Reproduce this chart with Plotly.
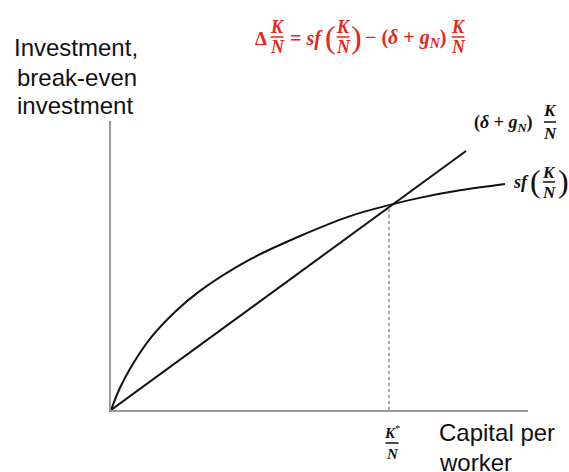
import plotly.graph_objects as go

# ---- data ----
k_curve = [0, 0.32, 0.68, 1.40, 2.30, 3.20, 5.00, 6.80, 8.60, 10.0, 11.1, 12.55, 14.17]
sf_curve = [0, 0.76, 1.42, 2.46, 3.39, 4.12, 5.21, 6.02, 6.71, 7.09, 7.34, 7.60, 7.82]
k_line = [0, 12.77]
be_line = [0, 8.96]
k_star = 10.0
y_star = 7.09

X_RANGE = [0, 15]
Y_RANGE = [0, 10]

# plot area in pixels
L, R, T, B = 111, 528, 121, 410
W, H = 569, 472

def px(x):
    return (x - L) / (R - L)

def py(y):
    return (B - y) / (B - T)

RED = "#e8231b"
BLACK = "#111111"
SERIF = "Liberation Serif"
SANS = "Liberation Sans"

fig = go.Figure()

fig.add_trace(go.Scatter(x=k_curve, y=sf_curve, mode="lines",
                         line=dict(color=BLACK, width=2, shape="spline", smoothing=1.0),
                         hoverinfo="skip"))
fig.add_trace(go.Scatter(x=k_line, y=be_line, mode="lines",
                         line=dict(color=BLACK, width=2), hoverinfo="skip"))
fig.add_trace(go.Scatter(x=[k_star, k_star], y=[0, y_star], mode="lines",
                         line=dict(color="#555555", width=1, dash="dot"), hoverinfo="skip"))

annotations = []
shapes = []

def text(x, y, s, size, color=BLACK, family=SERIF, xanchor="center"):
    annotations.append(dict(x=px(x), y=py(y), xref="paper", yref="paper", text=s,
                            showarrow=False, xanchor=xanchor, yanchor="middle",
                            font=dict(size=size, color=color, family=family)))

def frac(cx, cy, top, bottom, size, color, w, gap):
    text(cx, cy - gap, top, size, color)
    text(cx, cy + gap, bottom, size, color)
    shapes.append(dict(type="line", xref="paper", yref="paper",
                       x0=px(cx - w / 2), x1=px(cx + w / 2), y0=py(cy), y1=py(cy),
                       line=dict(color=color, width=1.5)))

KN_T = "<b><i>K</i></b>"
KN_B = "<b><i>N</i></b>"

# red equation at the top
text(261, 38, "<b>Δ</b>", 19, RED)
frac(277, 37, KN_T, KN_B, 18, RED, 13, 10)
text(306, 38, "<b>= <i>sf</i></b>", 20, RED)
text(330, 37, "(", 32, RED)
frac(343, 37, KN_T, KN_B, 18, RED, 13, 10)
text(356, 37, ")", 32, RED)
text(406, 38, "<b>− (<i>δ</i> + <i>g</i><sub><i>N</i></sub>)</b>", 20, RED)
frac(458, 37, KN_T, KN_B, 18, RED, 13, 10)

# right-side labels
text(503, 123, "<b>(<i>δ</i> + <i>g</i><sub><i>N</i></sub>)</b>", 18, BLACK)
frac(550, 122, KN_T, KN_B, 17, BLACK, 12, 11)
text(521, 182, "<b><i>sf</i></b>", 18, BLACK)
text(535, 181, "(", 32, BLACK)
frac(549, 182, KN_T, KN_B, 17, BLACK, 12, 10)
text(563, 181, ")", 32, BLACK)

# K*/N
frac(392, 443, "<b><i>K</i></b><sup>*</sup>", KN_B, 15, BLACK, 13, 11)

# axis titles
text(76, 47, "Investment,", 24, BLACK, SANS)
text(77, 77, "break-even", 24, BLACK, SANS)
text(75, 105, "investment", 24, BLACK, SANS)
text(437, 432, "Capital per", 24, BLACK, SANS, xanchor="left")
text(437, 462, "worker", 24, BLACK, SANS, xanchor="left")

axis_common = dict(showline=True, linecolor="#999999", linewidth=1.5, showgrid=False,
                   zeroline=False, showticklabels=False, ticks="", mirror=False, fixedrange=True)

fig.update_layout(
    width=W, height=H,
    margin=dict(l=L, r=W - R, t=T, b=H - B, pad=0),
    plot_bgcolor="white", paper_bgcolor="white",
    showlegend=False,
    xaxis=dict(range=X_RANGE, **axis_common),
    yaxis=dict(range=Y_RANGE, **axis_common),
    annotations=annotations,
    shapes=shapes,
)

fig.write_html("out.html", config={"displayModeBar": False},
               post_script="document.body.style.margin='0px';")
